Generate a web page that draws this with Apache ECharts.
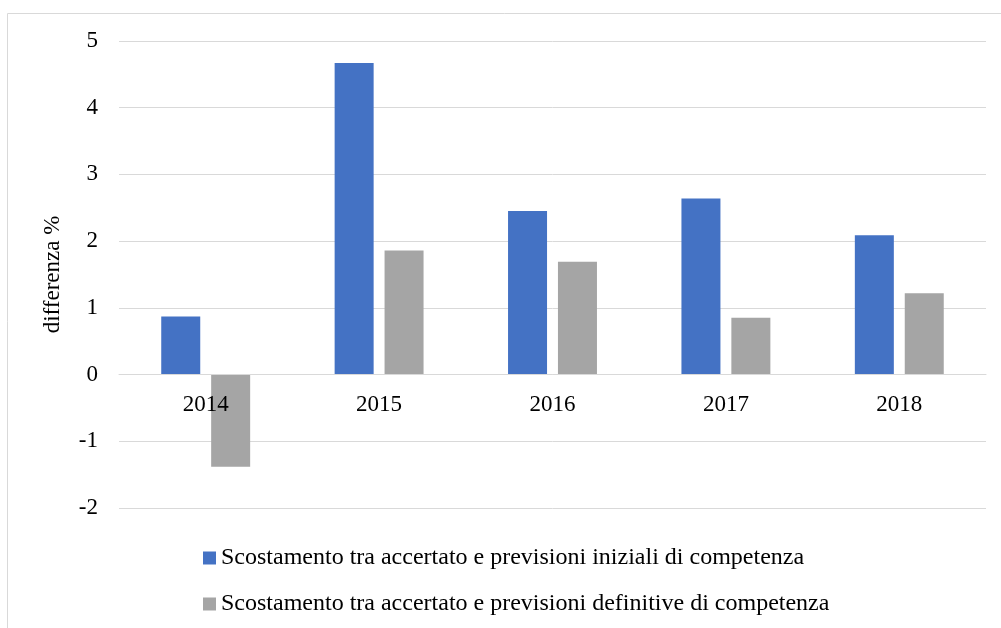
<!DOCTYPE html>
<html>
<head>
<meta charset="utf-8">
<script src="https://cdn.jsdelivr.net/npm/echarts@6/dist/echarts.min.js"></script>
<style>html,body{margin:0;padding:0;background:#fff;}#c{width:1001px;height:628px;}</style>
</head>
<body>
<div id="c"></div>
<script>
var categories = ['2014', '2015', '2016', '2017', '2018'];
var iniziali = [0.87, 4.67, 2.45, 2.64, 2.09];
var definitive = [-1.38, 1.86, 1.69, 0.85, 1.22];
var seriesNames = [
  'Scostamento tra accertato e previsioni iniziali di competenza',
  'Scostamento tra accertato e previsioni definitive di competenza'
];
var yTicks = { min: -2, max: 5, interval: 1 };
var axisName = 'differenza %';

var font = 'Liberation Serif';
var chart = echarts.init(document.getElementById('c'));
chart.setOption({
  animation: false,
  textStyle: { fontFamily: font },
  graphic: [{
    type: 'rect', silent: true,
    shape: { x: 7.5, y: 13.5, width: 1010, height: 630 },
    style: { fill: 'none', stroke: '#d9d9d9', lineWidth: 1 }
  }],
  grid: { left: 119, right: 15, top: 41, bottom: 120, containLabel: false },
  legend: {
    orient: 'vertical', left: 203, top: 546, padding: 0,
    itemWidth: 13, itemHeight: 13, itemGap: 22,
    icon: 'rect',
    textStyle: { fontFamily: font, fontSize: 24, color: '#000', lineHeight: 24 },
    data: seriesNames
  },
  xAxis: {
    type: 'category', data: categories,
    offset: -133.4, z: 10,
    axisLine: { onZero: false, lineStyle: { color: '#d9d9d9', width: 1 } },
    axisTick: { show: false },
    axisLabel: { fontFamily: font, fontSize: 23, color: '#000', margin: 19 },
    splitLine: { show: false }
  },
  yAxis: {
    type: 'value', min: yTicks.min, max: yTicks.max, interval: yTicks.interval,
    name: axisName, nameLocation: 'middle', nameGap: 55, nameRotate: 90,
    nameTextStyle: { fontFamily: font, fontSize: 23, color: '#000' },
    axisLine: { show: false }, axisTick: { show: false },
    axisLabel: { fontFamily: font, fontSize: 23, color: '#000', margin: 21 },
    splitLine: { lineStyle: { color: '#d9d9d9', width: 1 } }
  },
  series: [
    { name: seriesNames[0], type: 'bar', data: iniziali, barWidth: 39, barGap: '28%',
      itemStyle: { color: '#4472C4' } },
    { name: seriesNames[1], type: 'bar', data: definitive, barWidth: 39, barGap: '28%',
      itemStyle: { color: '#A5A5A5' } }
  ]
});
</script>
</body>
</html>
